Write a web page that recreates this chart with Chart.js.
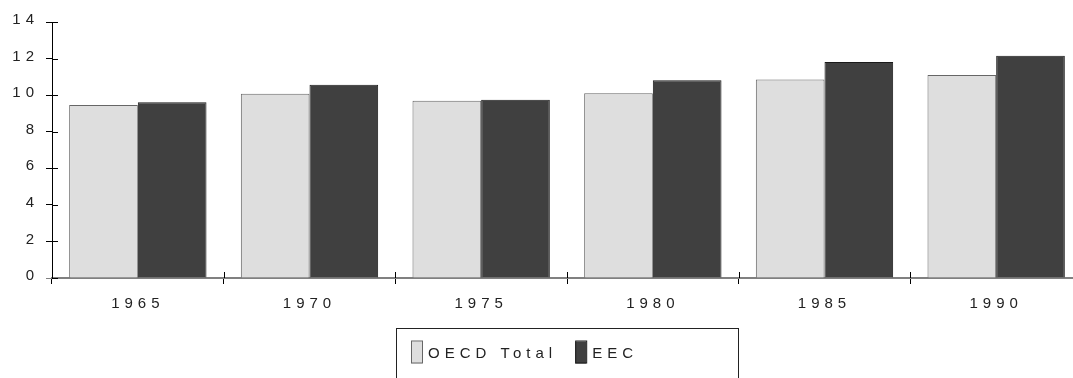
<!DOCTYPE html>
<html>
<head>
<meta charset="utf-8">
<script src="https://cdn.jsdelivr.net/npm/chart.js@4"></script>
<style>
  html, body { margin: 0; padding: 0; background: #fff; overflow: hidden; }
  #wrap { position: relative; width: 1090px; height: 378px; }
</style>
</head>
<body>
<div id="wrap"><canvas id="c"></canvas></div>
<script>
const years = ['1965', '1970', '1975', '1980', '1985', '1990'];
const oecdTotal = [9.46, 10.08, 9.70, 10.10, 10.85, 11.10];
const eec = [9.61, 10.57, 9.75, 10.81, 11.81, 12.16];
const seriesNames = ['OECD Total', 'EEC'];
const yMin = 0, yMax = 14, yStep = 2;

const FONT = { family: '"Liberation Sans", Arial, sans-serif', size: 15 };
const TEXT = '#222';
const SPACING = '5px';

// Wide-tracked lettering used for every label on the canvas
const tracking = {
  id: 'tracking',
  beforeUpdate(chart) { chart.ctx.letterSpacing = SPACING; },
  beforeDraw(chart) { chart.ctx.letterSpacing = SPACING; }
};

// Tick marks that cross the axes (inner half) and the boxed legend
const axisExtras = {
  id: 'axisExtras',
  afterDraw(chart) {
    const ctx = chart.ctx;
    const ca = chart.chartArea;
    const xs = chart.scales.x, ys = chart.scales.y;
    ctx.save();
    ctx.letterSpacing = SPACING;
    ctx.strokeStyle = '#000';
    ctx.lineWidth = 1;
    // inner halves of value ticks
    ys.ticks.forEach((t, i) => {
      const y = Math.round(ys.getPixelForTick(i)) + 0.5;
      ctx.beginPath();
      ctx.moveTo(ca.left, y);
      ctx.lineTo(ca.left + 6, y);
      ctx.stroke();
    });
    // inner halves of category boundary ticks
    for (let i = 1; i <= xs.ticks.length; i++) {
      const x = Math.round(xs.left + (xs.right - xs.left) * i / xs.ticks.length) + 0.5;
      ctx.beginPath();
      ctx.moveTo(x, ca.bottom);
      ctx.lineTo(x, ca.bottom - 6);
      ctx.stroke();
    }
    // legend box
    const boxW = 342;
    const left = Math.round((ca.left + ca.right) / 2 - boxW / 2) + 0.5;
    const top = Math.round(ca.bottom + 50) + 0.5;
    ctx.strokeStyle = '#222';
    ctx.strokeRect(left, top, boxW, 120);
    ctx.font = `${FONT.size}px ${FONT.family}`;
    ctx.textBaseline = 'middle';
    ctx.textAlign = 'left';
    let x = Math.round(left + 14);
    chart.data.datasets.forEach(ds => {
      ctx.fillStyle = ds.backgroundColor;
      ctx.fillRect(x, top + 13, 11, 22);
      ctx.strokeStyle = ds.borderColor;
      ctx.strokeRect(x + 0.5, top + 12.5, 11, 22);
      x += 17;
      ctx.fillStyle = TEXT;
      ctx.fillText(ds.label, x, top + 25);
      x += ctx.measureText(ds.label).width + 18;
    });
    ctx.restore();
  }
};

const yTickValues = [];
for (let v = yMin; v <= yMax; v += yStep) yTickValues.push(v);

new Chart(document.getElementById('c'), {
  type: 'bar',
  data: {
    labels: years,
    datasets: [
      { label: seriesNames[0], data: oecdTotal, backgroundColor: '#dedede', borderColor: '#666', borderWidth: 1 },
      { label: seriesNames[1], data: eec, backgroundColor: '#404040', borderColor: '#1a1a1a', borderWidth: 1 }
    ]
  },
  options: {
    responsive: true,
    maintainAspectRatio: false,
    devicePixelRatio: 1,
    animation: false,
    layout: { padding: { top: 22, right: 8, bottom: 0, left: 0 } },
    datasets: { bar: { categoryPercentage: 0.8, barPercentage: 1.0 } },
    plugins: { legend: { display: false }, tooltip: { enabled: false } },
    scales: {
      x: {
        offset: true,
        grid: { display: true, drawOnChartArea: false, drawTicks: true, tickLength: 6, color: '#000', offset: true },
        border: { display: true, color: '#808080', width: 2 },
        ticks: { color: TEXT, font: FONT, padding: 11, maxRotation: 0 },
        afterFit(scale) { scale.height = 100; }
      },
      y: {
        min: yMin, max: yMax,
        afterBuildTicks(scale) { scale.ticks = yTickValues.map(v => ({ value: v })); },
        grid: {
          drawOnChartArea: false, drawTicks: true, tickLength: 6,
          color: ctx => (ctx.tick && ctx.tick.value === 0 ? '#808080' : '#000')
        },
        border: { display: true, color: '#000', width: 1 },
        ticks: { color: TEXT, font: FONT, padding: 7, labelOffset: -2 },
        afterFit(scale) { scale.width = 52; }
      }
    }
  },
  plugins: [tracking, axisExtras]
});
</script>
</body>
</html>
